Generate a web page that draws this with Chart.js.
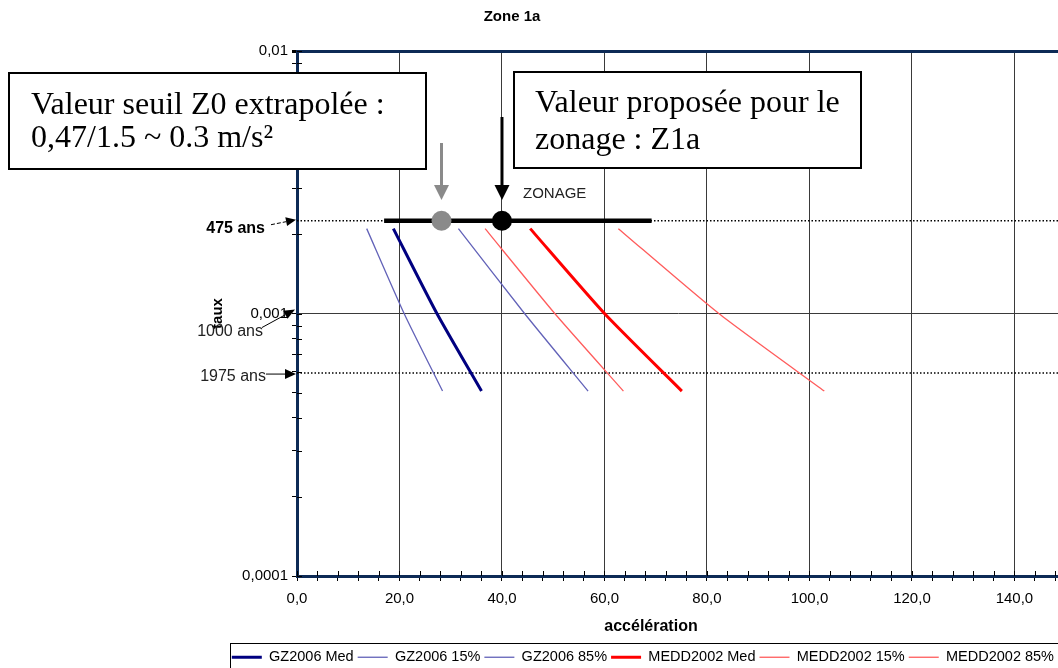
<!DOCTYPE html>
<html>
<head>
<meta charset="utf-8">
<title>Zone 1a</title>
<script src="https://cdn.jsdelivr.net/npm/chart.js@4.4.1/dist/chart.umd.min.js"></script>
<style>
  html, body { margin: 0; padding: 0; background: #fff; }
  #chart { display: block; }
</style>
</head>
<body>
<canvas id="chart" width="1058" height="668"></canvas>
<script>
// Périodes de retour (ans) -> taux annuel
const returnPeriods = [475, 1000, 1975];

const seriesNames = ['GZ2006 Med', 'GZ2006 15%', 'GZ2006 85%', 'MEDD2002 Med', 'MEDD2002 15%', 'MEDD2002 85%'];
const gzMed = [18.8, 27.3, 36.0];
const gz15 = [13.6, 20.9, 28.4];
const gz85 = [31.5, 44.4, 56.8];
const meddMed = [45.5, 60.0, 75.1];
const medd15 = [36.7, 50.3, 63.7];
const medd85 = [62.7, 82.3, 102.9];
const seriesColors = ['#000080', '#6262b8', '#6262b8', '#ff0000', '#ff5c5c', '#ff5c5c'];
const seriesWidths = [3, 1.3, 1.3, 3, 1.3, 1.3];

// lignes pointillées "475 ans" et "1975 ans"
const guideRates = [0.002257, 0.000593];
const guideLabels = ['475 ans', '1975 ans'];
const zonageRange = [17.0, 69.2];
const seuilZ0 = 28.2;
const zonageZ1a = 40.0;

const xMax = 148.5;
const xMinorStep = 4;
const xMajorStep = 20;
const yMajorTicks = [0.0001, 0.001, 0.01];
const yMajorLabels = ['0,0001', '0,001', '0,01'];

const axisNavy = '#0d2a56';
const gridGray = '#3a3a3a';

Chart.defaults.font.family = "'Liberation Sans', Arial, sans-serif";

const xTickValues = [];
for (let v = 0; v <= xMax; v += xMinorStep) xTickValues.push(v);

const yTickValues = [];
yMajorTicks.slice(0, -1).forEach(function(d) {
    for (let m = 1; m <= 9; m++) yTickValues.push(Number((m * d).toPrecision(6)));
});
yTickValues.push(yMajorTicks[yMajorTicks.length - 1]);

const rates = returnPeriods.map(function(t) { return 1 / t; });
const seriesX = [gzMed, gz15, gz85, meddMed, medd15, medd85];

const datasets = seriesNames.map(function(name, i) {
    return {
        label: name,
        data: seriesX[i].map(function(x, k) { return {x: x, y: rates[k]}; }),
        showLine: true,
        borderColor: seriesColors[i],
        backgroundColor: seriesColors[i],
        borderWidth: seriesWidths[i],
        pointRadius: 0,
        tension: 0.2
    };
});

datasets.push({
    label: 'points',
    data: [{x: seuilZ0, y: guideRates[0]}, {x: zonageZ1a, y: guideRates[0]}],
    showLine: false,
    pointRadius: 10,
    pointBorderWidth: 0,
    pointBackgroundColor: ['#8a8a8a', '#000000']
});
datasets.push({
    label: 'zonage',
    data: zonageRange.map(function(x) { return {x: x, y: guideRates[0]}; }),
    showLine: true,
    borderColor: '#000',
    borderWidth: 4.5,
    pointRadius: 0
});
guideRates.forEach(function(r, i) {
    datasets.push({
        label: guideLabels[i],
        data: [{x: 0, y: r}, {x: xMax, y: r}],
        showLine: true,
        borderColor: '#000',
        borderWidth: 1.5,
        borderDash: [1.5, 2],
        pointRadius: 0
    });
});

function drawArrow(ctx, x1, y1, x2, y2, o) {
    const ang = Math.atan2(y2 - y1, x2 - x1);
    const bx = x2 - Math.cos(ang) * o.headLength;
    const by = y2 - Math.sin(ang) * o.headLength;
    const hw = o.headWidth / 2;
    ctx.save();
    ctx.strokeStyle = o.color;
    ctx.fillStyle = o.color;
    ctx.lineWidth = o.width;
    ctx.setLineDash(o.dash || []);
    ctx.beginPath();
    ctx.moveTo(x1, y1);
    ctx.lineTo(bx, by);
    ctx.stroke();
    ctx.setLineDash([]);
    ctx.beginPath();
    ctx.moveTo(x2, y2);
    ctx.lineTo(bx + Math.sin(ang) * hw, by - Math.cos(ang) * hw);
    ctx.lineTo(bx - Math.sin(ang) * hw, by + Math.cos(ang) * hw);
    ctx.closePath();
    ctx.fill();
    ctx.restore();
}

function textBox(ctx, x, y, w, h, lines) {
    ctx.save();
    ctx.fillStyle = '#fff';
    ctx.fillRect(x, y, w, h);
    ctx.strokeStyle = '#000';
    ctx.lineWidth = 2;
    ctx.strokeRect(x, y, w, h);
    ctx.fillStyle = '#000';
    ctx.font = "32px 'Liberation Serif', 'Times New Roman', serif";
    ctx.textAlign = 'left';
    ctx.textBaseline = 'alphabetic';
    lines.forEach(function(l) { ctx.fillText(l.text, l.x, l.y); });
    ctx.restore();
}

const innerTicks = {
    id: 'innerTicks',
    afterDatasetsDraw: function(chart) {
        const ctx = chart.ctx;
        const area = chart.chartArea;
        ctx.save();
        ctx.strokeStyle = '#000';
        ctx.lineWidth = 1;
        ctx.beginPath();
        chart.scales.y.ticks.forEach(function(t) {
            const y = Math.round(chart.scales.y.getPixelForValue(t.value)) + 0.5;
            ctx.moveTo(area.left, y);
            ctx.lineTo(area.left + 5, y);
        });
        chart.scales.x.ticks.forEach(function(t) {
            const x = Math.round(chart.scales.x.getPixelForValue(t.value)) + 0.5;
            ctx.moveTo(x, area.bottom);
            ctx.lineTo(x, area.bottom - 5);
        });
        ctx.stroke();
        ctx.restore();
    }
};

const annotations = {
    id: 'annotations',
    afterDraw: function(chart) {
        const ctx = chart.ctx;
        const xs = chart.scales.x;
        const ys = chart.scales.y;
        const left = chart.chartArea.left;
        const y475 = ys.getPixelForValue(guideRates[0]);
        const y1975 = ys.getPixelForValue(guideRates[1]);
        const y1000 = ys.getPixelForValue(0.001);

        // titres (décalés comme dans l'original Excel)
        ctx.save();
        ctx.fillStyle = '#000';
        ctx.textAlign = 'center';
        ctx.textBaseline = 'middle';
        ctx.font = "bold 15px 'Liberation Sans', Arial, sans-serif";
        ctx.fillText('Zone 1a', 512, 17);
        ctx.font = "bold 16px 'Liberation Sans', Arial, sans-serif";
        ctx.fillText('accélération', 651, 627);
        ctx.restore();

        textBox(ctx, 9, 73, 417, 96, [
            {text: 'Valeur seuil Z0 extrapolée :', x: 31, y: 114},
            {text: '0,47/1.5 ~ 0.3 m/s²', x: 31, y: 147}
        ]);
        textBox(ctx, 514, 72, 347, 96, [
            {text: 'Valeur proposée pour le', x: 535, y: 112},
            {text: 'zonage : Z1a', x: 535, y: 149}
        ]);

        const xg = xs.getPixelForValue(seuilZ0);
        const xb = xs.getPixelForValue(zonageZ1a);
        drawArrow(ctx, xg, 143, xg, 200, {color: '#8a8a8a', width: 3, headLength: 15, headWidth: 15});
        drawArrow(ctx, xb, 117, xb, 200, {color: '#000', width: 3, headLength: 15, headWidth: 15});

        ctx.save();
        ctx.fillStyle = '#222';
        ctx.font = "15px 'Liberation Sans', Arial, sans-serif";
        ctx.textAlign = 'left';
        ctx.textBaseline = 'middle';
        ctx.fillText('ZONAGE', xb + 21, 194);

        ctx.textAlign = 'right';
        ctx.fillStyle = '#000';
        ctx.font = "bold 16px 'Liberation Sans', Arial, sans-serif";
        ctx.fillText('475 ans', 265, y475 + 8);
        ctx.fillStyle = '#222';
        ctx.font = "16px 'Liberation Sans', Arial, sans-serif";
        ctx.fillText('1000 ans', 263, y1000 + 18);
        ctx.fillText('1975 ans', 266, y1975 + 4);
        ctx.restore();

        drawArrow(ctx, 271, y475 + 4, left - 1, y475 - 1, {color: '#000', width: 1, headLength: 10, headWidth: 9, dash: [4, 2]});
        drawArrow(ctx, 262, y1000 + 14, left - 2, y1000 - 4, {color: '#000', width: 1, headLength: 11, headWidth: 9});
        drawArrow(ctx, 266, y1975 + 1, left - 1, y1975 + 1, {color: '#000', width: 1, headLength: 11, headWidth: 10});

        // cadre de la légende
        const hb = chart.legend.legendHitBoxes[0];
        if (hb) {
            ctx.save();
            ctx.strokeStyle = '#000';
            ctx.lineWidth = 1;
            ctx.strokeRect(Math.round(hb.left - 2) + 0.5, 643.5, 1100, 60);
            ctx.restore();
        }
    }
};

new Chart(document.getElementById('chart'), {
    type: 'scatter',
    data: {datasets: datasets},
    options: {
        responsive: false,
        animation: false,
        layout: {padding: {top: 51, left: 0, right: 0, bottom: 0}, autoPadding: false},
        plugins: {
            title: {display: false},
            legend: {
                position: 'bottom',
                align: 'end',
                maxHeight: 22,
                labels: {
                    filter: function(item) { return item.datasetIndex < seriesNames.length; },
                    usePointStyle: true,
                    pointStyle: 'line',
                    pointStyleWidth: 30,
                    padding: 4,
                    color: '#000',
                    font: {size: 14.5}
                }
            },
            tooltip: {enabled: false}
        },
        scales: {
            x: {
                type: 'linear',
                min: 0,
                max: xMax,
                afterBuildTicks: function(s) { s.ticks = xTickValues.map(function(v) { return {value: v}; }); },
                afterFit: function(s) {
                    s.height = 70;
                    s.paddingRight = 0;
                    s.paddingLeft = 0;
                },
                ticks: {
                    autoSkip: false,
                    maxRotation: 0,
                    padding: 9,
                    color: '#000',
                    font: {size: 15},
                    callback: function(v) { return v % xMajorStep === 0 ? v.toFixed(1).replace('.', ',') : ''; }
                },
                grid: {
                    color: function(c) {
                        return c.tick && c.tick.value > 0 && c.tick.value % xMajorStep === 0 ? gridGray : 'rgba(0,0,0,0)';
                    },
                    lineWidth: 1,
                    tickColor: '#000',
                    tickLength: 5
                },
                border: {color: axisNavy, width: 3},
                title: {display: false}
            },
            y: {
                type: 'logarithmic',
                min: yMajorTicks[0],
                max: yMajorTicks[yMajorTicks.length - 1],
                afterBuildTicks: function(s) {
                    s.ticks = yTickValues.map(function(v) { return {value: v, major: yMajorTicks.indexOf(v) >= 0}; });
                },
                afterFit: function(s) { s.width = 297; },
                ticks: {
                    autoSkip: false,
                    padding: 4,
                    color: '#000',
                    font: {size: 15},
                    callback: function(v) {
                        const i = yMajorTicks.findIndex(function(m) { return Math.abs(m - v) / m < 1e-6; });
                        return i >= 0 ? yMajorLabels[i] : '';
                    }
                },
                grid: {
                    color: function(c) {
                        if (!c.tick) return 'rgba(0,0,0,0)';
                        if (Math.abs(c.tick.value - 0.01) < 1e-9) return axisNavy;
                        if (Math.abs(c.tick.value - 0.001) < 1e-9) return gridGray;
                        return 'rgba(0,0,0,0)';
                    },
                    lineWidth: function(c) {
                        return c.tick && Math.abs(c.tick.value - 0.01) < 1e-9 ? 3 : 1;
                    },
                    tickColor: '#000',
                    tickLength: 5
                },
                border: {color: axisNavy, width: 3},
                title: {
                    display: true,
                    text: 'taux',
                    color: '#000',
                    font: {size: 15, weight: 'bold'},
                    padding: {top: 209, bottom: 0}
                }
            }
        }
    },
    plugins: [innerTicks, annotations]
});
</script>
</body>
</html>
